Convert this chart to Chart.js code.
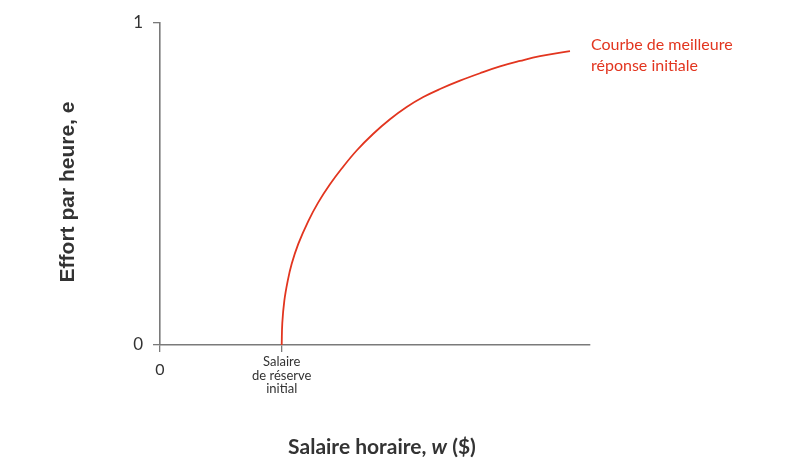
<!DOCTYPE html>
<html>
<head>
<meta charset="utf-8">
<script src="https://cdn.jsdelivr.net/npm/chart.js@4"></script>
<style>
html,body{margin:0;padding:0;background:#fff;}
#wrap{width:810px;height:472px;position:relative;}
</style>
</head>
<body>
<div id="wrap"><canvas id="c" width="810" height="472"></canvas></div>
<script>
// Data (x in abstract wage units 0..100, y = effort 0..1)
const wageValues   = [28.30, 28.44, 28.91, 29.70, 30.63, 32.16, 34.49, 36.81, 39.53, 42.26, 45.74,
                      49.60, 53.49, 57.37, 61.23, 65.12, 69.77, 74.42, 79.07, 83.72, 88.37, 95.35];
const effortValues = [0.000, 0.068, 0.137, 0.199, 0.252, 0.314, 0.385, 0.443, 0.499, 0.548, 0.604,
                      0.656, 0.701, 0.739, 0.770, 0.795, 0.821, 0.844, 0.865, 0.882, 0.897, 0.913];
const xTickValues  = [0, 28.3];
const xTickLabels  = [['0'], ['Salaire', 'de réserve', 'initial']];
const yTickValues  = [0, 1];
const yTickLabels  = ['0', '1'];
const curveLabel   = ['Courbe de meilleure', 'réponse initiale'];
const xTitleParts  = [['Salaire horaire, ', false], ['w', true], [' ($)', false]];
const yTitle       = 'Effort par heure, e';

const RED = '#e2351f';
const AXIS = '#7a7a7a';
const TEXT = '#333333';
const FONT = 'Lato, "Noto Sans", sans-serif';

const points = wageValues.map((w, i) => ({x: w, y: effortValues[i]}));

const labelPlugin = {
  id: 'labels',
  afterDraw(chart) {
    const ctx = chart.ctx;
    const xs = chart.scales.x, ys = chart.scales.y;
    ctx.save();
    // x tick labels
    ctx.fillStyle = TEXT;
    ctx.textAlign = 'center';
    ctx.textBaseline = 'middle';
    ctx.font = '16px ' + FONT;
    ctx.fillText(xTickLabels[0][0], xs.getPixelForValue(xTickValues[0]), 370);
    ctx.font = '13px ' + FONT;
    xTickLabels[1].forEach((t, i) => {
      ctx.fillText(t, xs.getPixelForValue(xTickValues[1]), 362 + i * 13.5);
    });
    // curve label
    const last = points[points.length - 1];
    const lx = xs.getPixelForValue(last.x) + 21;
    const ly = ys.getPixelForValue(last.y);
    ctx.fillStyle = RED;
    ctx.textAlign = 'left';
    ctx.font = '16px ' + FONT;
    ctx.fillText(curveLabel[0], lx, ly - 6);
    ctx.fillText(curveLabel[1], lx, ly + 15);
    // x title with italic w
    ctx.fillStyle = TEXT;
    const cx = (xs.left + xs.right) / 2 + 7;
    const widths = xTitleParts.map(([t, it]) => {
      ctx.font = (it ? 'italic ' : '') + 'bold 21px ' + FONT;
      return ctx.measureText(t).width;
    });
    const total = widths.reduce((a, b) => a + b, 0);
    let x = cx - total / 2;
    xTitleParts.forEach(([t, it], i) => {
      ctx.font = (it ? 'italic ' : '') + 'bold 21px ' + FONT;
      ctx.fillText(t, x, 447);
      x += widths[i];
    });
    // y title
    ctx.translate(68, (ys.top + ys.bottom) / 2 + 8);
    ctx.rotate(-Math.PI / 2);
    ctx.textAlign = 'center';
    ctx.font = 'bold 21px "Liberation Sans", Arial, sans-serif';
    ctx.fillText(yTitle, 0, 0);
    ctx.restore();
  }
};

new Chart(document.getElementById('c'), {
  type: 'scatter',
  data: {
    datasets: [{
      data: points,
      showLine: true,
      borderColor: RED,
      borderWidth: 1.8,
      pointRadius: 0,
      tension: 0.4,
      fill: false
    }]
  },
  options: {
    responsive: false,
    animation: false,
    devicePixelRatio: 1,
    layout: {padding: {left: 0, right: 220, top: 23, bottom: 0}},
    plugins: {legend: {display: false}, tooltip: {enabled: false}},
    scales: {
      x: {
        type: 'linear',
        min: 0, max: 100,
        afterBuildTicks(s) { s.ticks = xTickValues.map(v => ({value: v})); },
        afterFit(s) { s.height = 472 - 345; },
        ticks: {display: false},
        grid: {display: true, drawOnChartArea: false, drawTicks: true, tickLength: 7, color: AXIS, lineWidth: 1.3},
        border: {display: true, color: AXIS, width: 1.6}
      },
      y: {
        type: 'linear',
        min: 0, max: 1,
        afterBuildTicks(s) { s.ticks = yTickValues.map(v => ({value: v})); },
        afterFit(s) { s.width = 160; },
        ticks: {
          color: TEXT, padding: 10,
          font: {family: FONT, size: 17},
          callback(v) { const i = yTickValues.indexOf(v); return i >= 0 ? yTickLabels[i] : ''; }
        },
        grid: {display: true, drawOnChartArea: false, drawTicks: true, tickLength: 7, color: AXIS, lineWidth: 1.3},
        border: {display: true, color: AXIS, width: 1.6}
      }
    }
  },
  plugins: [labelPlugin]
});
</script>
</body>
</html>
